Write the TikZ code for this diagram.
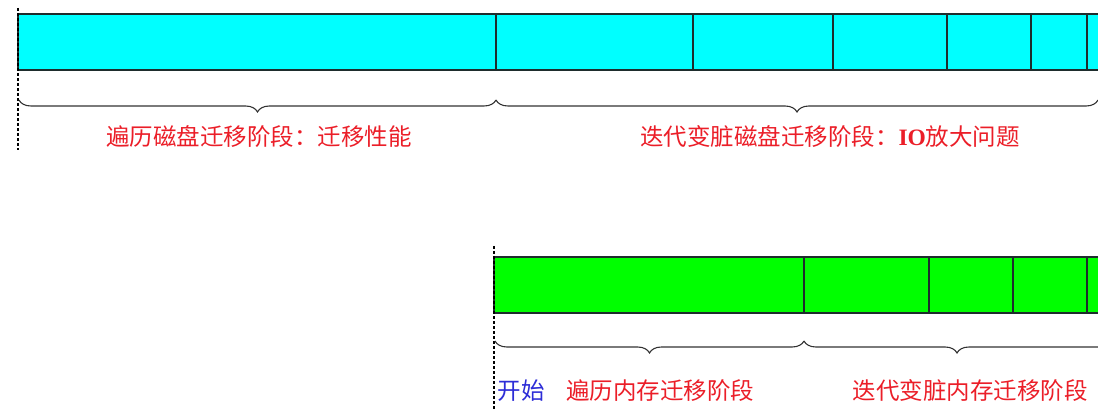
\documentclass[tikz,border=0pt]{standalone}
\usepackage{fontspec}
\newfontfamily\cjk{Noto Sans CJK SC}
\newfontfamily\latserif{Liberation Serif}
\usetikzlibrary{decorations.pathreplacing}
\definecolor{barcyan}{RGB}{0,255,255}
\definecolor{bargreen}{RGB}{0,255,0}
\definecolor{barline}{RGB}{30,45,45}
\definecolor{txtred}{RGB}{235,30,40}
\definecolor{txtblue}{RGB}{45,45,215}
\tikzset{
  seg/.style={draw=barline, line width=1.3pt},
  startline/.style={draw=black, line width=2.2pt, dash pattern=on 3pt off 2pt},
  bracepath/.style={draw=black!80, line width=1.1pt, decorate, decoration={brace, mirror, amplitude=12pt}},
  lbl/.style={inner sep=0pt, font=\cjk\fontsize{23.5}{24}\selectfont},
}
\begin{document}
\begin{tikzpicture}[x=1pt,y=-1pt]
\useasboundingbox (0,0) rectangle (1098,414);
\clip (0,0) rectangle (1098,414);
% top bar
\foreach \a/\b in {18/496,496/693,693/833,833/947,947/1031,1031/1087,1087/1120}
  \draw[seg, fill=barcyan] (\a,14) rectangle (\b,70);
% bottom bar
\foreach \a/\b in {494/804,804/929,929/1013,1013/1087,1087/1120}
  \draw[seg, fill=bargreen] (\a,257) rectangle (\b,313);
% start lines
\coordinate (t0) at (18,8);
\coordinate (t1) at (18,150);
\draw[startline] (t0) -- (t1);
\coordinate (b0) at (494,246);
\coordinate (b1) at (494,410);
\draw[startline] (b0) -- (b1);
% braces
\coordinate (ta) at (19,100);
\coordinate (tb) at (496,100);
\coordinate (tc) at (1098,100);
\draw[bracepath] (ta) -- (tb);
\draw[bracepath] (tb) -- (tc);
\coordinate (ba) at (495,341);
\coordinate (bb) at (804,341);
\coordinate (bc) at (1110,341);
\draw[bracepath] (ba) -- (bb);
\draw[bracepath] (bb) -- (bc);
% labels
\node[lbl, text=txtred] (l1) at (259,137) {遍历磁盘迁移阶段：迁移性能};
\node[lbl, text=txtred] (l2) at (830,137) {迭代变脏磁盘迁移阶段：{\latserif\bfseries IO}放大问题};
\node[lbl, text=txtblue] (l3) at (521,391) {开始};
\node[lbl, text=txtred] (l4) at (660,391) {遍历内存迁移阶段};
\node[lbl, text=txtred] (l5) at (970,391) {迭代变脏内存迁移阶段};
\end{tikzpicture}
\end{document}
